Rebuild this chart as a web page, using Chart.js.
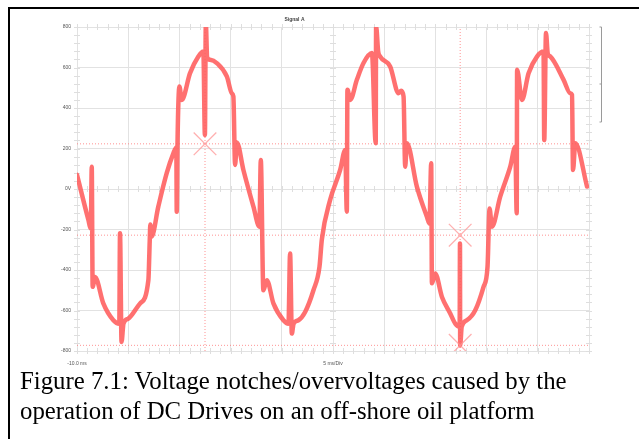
<!DOCTYPE html>
<html lang="en">
<head>
  <meta charset="UTF-8">
  <title>Figure 7.1 - Voltage notches</title>
  <script src="https://cdn.jsdelivr.net/npm/chart.js"></script>
  <style>
    html, body { margin: 0; padding: 0; background: #fff; overflow: hidden; }
    .frame { position: absolute; left: 8px; top: 7px; width: 700px; height: 500px;
             border-top: 2px solid #000; border-left: 2px solid #000; }
    .chart-box { position: absolute; left: 0; top: 0; width: 639px; height: 372px; }
    .caption { position: absolute; left: 20px; top: 366px; margin: 0;
               font-family: "Liberation Serif", "Times New Roman", serif;
               font-size: 24.8px; line-height: 30px; color: #000; }
  </style>
</head>
<body>
  <div class="frame"></div>
  <div class="chart-box"><canvas id="scope"></canvas></div>
  <p class="caption">Figure 7.1: Voltage notches/overvoltages caused by the<br>operation of DC Drives on an off-shore oil platform</p>

  <script>
    // trace "Signal A" : time in ms, voltage in V
    const timeMs = [
      -10.0, -8.90, -8.65, -8.56, -8.47, -8.24, -7.43, -6.45, -5.87, -5.80,
      -5.65, -5.46, -4.99, -3.84, -3.03, -2.90, -2.84, -2.72, -2.06, -1.24,
      -0.59, -0.30, -0.26, -0.18, 0.00, 0.23, 1.04, 1.85, 2.34, 2.49,
      2.58, 2.71, 3.00, 3.65, 4.63, 5.12, 5.27, 5.44, 5.61, 6.25,
      7.23, 7.81, 7.95, 8.20, 8.54, 9.18, 10.16, 10.65, 10.81, 10.98,
      11.15, 11.62, 12.28, 13.09, 13.68, 13.91, 14.72, 15.70, 16.19, 16.35,
      16.41, 16.68, 17.33, 17.98, 18.80, 19.17, 19.21, 19.41, 19.61, 20.58,
      21.40, 21.66, 21.89, 22.05, 22.21, 23.19, 24.17, 24.42, 24.59, 24.66,
      24.98, 25.64, 26.45, 26.94, 27.37, 27.40, 27.42, 27.57, 28.08, 28.89,
      29.70, 30.09, 30.29, 30.52, 31.33, 32.31, 32.80, 32.94, 32.98, 33.45,
      34.10, 34.92, 35.56, 35.63, 35.80, 35.97, 36.22, 37.52, 38.17, 38.34,
      38.44, 38.66, 39.81
    ];
    const voltage = [
      70, -150, -195, 110, -483, -434, -565, -648, -665, -218,
      -755, -665, -640, -565, -450, -260, -175, -235, -87, 78,
      176, 205, -112, 242, 506, 440, 572, 654, 679, 267,
      820, 650, 638, 622, 556, 473, 457, 119, 230, 94,
      -87, -186, 143, -500, -450, -565, -648, -665, -318, -714,
      -665, -648, -607, -500, -384, -250, -54, 94, 193, -112,
      490, 440, 539, 622, 671, 226, 803, 680, 654, 605,
      473, 485, 457, 110, 226, 12, -137, -170, 127, -466,
      -417, -533, -615, -665, -680, -269, -772, -680, -648, -599,
      -483, -384, -96, -186, -38, 110, 209, -120, 589, 440,
      572, 654, 679, 242, 770, 670, 654, 539, 473, 465,
      94, 226, 12
    ];

    // cursors (dotted lines) and their X marks
    const cursorLevels = [223, -228, -772];
    const cursorTimes = [2.5, 27.42];
    const markTimes = [2.5, 27.42, 27.42];
    const markVolts = [223, -228, -772];

    // axis range and labels
    const tMin = -10, tMax = 40, tStep = 5;
    const vMin = -800, vMax = 800, vStep = 200;
    const xLabels = { '-10': '-10.0 ms', '15': '5 ms/Div' };

    const traceColor = 'rgba(255, 92, 92, 0.88)';
    const cursorColor = 'rgba(255, 110, 110, 0.75)';

    // small graticule ticks + the bracket on the right
    const graticule = {
      id: 'graticule',
      beforeDatasetsDraw(chart) {
        const { ctx, chartArea, scales: { x, y } } = chart;
        ctx.save();
        ctx.strokeStyle = '#dedede';
        ctx.lineWidth = 1;
        ctx.beginPath();
        for (let t = tMin; t <= tMax; t += 1) {
          const px = Math.round(x.getPixelForValue(t)) + 0.5;
          [0, vMin, vMax].forEach(v => {
            const py = y.getPixelForValue(v);
            ctx.moveTo(px, py - 3); ctx.lineTo(px, py + 3);
          });
        }
        for (let v = vMin; v <= vMax; v += 40) {
          const py = Math.round(y.getPixelForValue(v)) + 0.5;
          [tMin, 15, tMax].forEach(t => {
            const px = x.getPixelForValue(t);
            ctx.moveTo(px - 3, py); ctx.lineTo(px + 3, py);
          });
        }
        ctx.stroke();

        // bracket
        const bx = chartArea.right + 12.5;
        const top = chartArea.top, bot = chartArea.top + 95, mid = chartArea.top + 57;
        ctx.strokeStyle = '#9a9a9a';
        ctx.beginPath();
        ctx.moveTo(bx - 2, top); ctx.lineTo(bx, top); ctx.lineTo(bx, bot); ctx.lineTo(bx - 2, bot);
        ctx.moveTo(bx - 2, mid); ctx.lineTo(bx, mid);
        ctx.stroke();
        ctx.restore();
      }
    };

    const datasets = [];
    datasets.push({
      label: 'Signal A',
      data: timeMs.map((t, i) => ({ x: t, y: voltage[i] })),
      borderColor: traceColor,
      borderWidth: 4.5,
      borderJoinStyle: 'round',
      borderCapStyle: 'round',
      pointRadius: 0,
      cubicInterpolationMode: 'monotone',
      order: 1
    });
    cursorLevels.forEach(v => datasets.push({
      data: [{ x: tMin, y: v }, { x: tMax, y: v }],
      borderColor: cursorColor, borderWidth: 1, borderDash: [1, 2],
      pointRadius: 0, order: 2
    }));
    cursorTimes.forEach(t => datasets.push({
      data: [{ x: t, y: vMin }, { x: t, y: vMax }],
      borderColor: cursorColor, borderWidth: 1, borderDash: [1, 2],
      pointRadius: 0, order: 2
    }));
    datasets.push({
      type: 'scatter',
      data: markTimes.map((t, i) => ({ x: t, y: markVolts[i] })),
      pointStyle: 'crossRot', pointRadius: 16, borderWidth: 1.3,
      borderColor: 'rgba(255, 150, 150, 0.75)', order: 0
    });

    window.onload = () => {
      new Chart(document.getElementById('scope'), {
        type: 'line',
        data: { datasets },
        plugins: [graticule],
        options: {
          responsive: true,
          maintainAspectRatio: false,
          animation: false,
          layout: { padding: { left: 0, right: 50, top: 0, bottom: 0 } },
          plugins: {
            legend: { display: false },
            tooltip: { enabled: false },
            title: {
              display: true, text: 'Signal A', color: '#444',
              font: { family: 'Arial, "Liberation Sans", sans-serif', size: 5 },
              padding: { top: 17, bottom: 4 }
            }
          },
          scales: {
            x: {
              type: 'linear', min: tMin, max: tMax,
              grid: { color: '#e2e2e2', drawTicks: false },
              border: { color: '#e2e2e2' },
              ticks: {
                stepSize: tStep, autoSkip: false, maxRotation: 0, padding: 10,
                color: '#555', font: { family: 'Arial, "Liberation Sans", sans-serif', size: 5 },
                callback: v => xLabels[String(v)] || ''
              },
              afterFit: s => { s.height = 21; }
            },
            y: {
              min: vMin, max: vMax,
              grid: { color: '#e2e2e2', drawTicks: false },
              border: { color: '#e2e2e2' },
              ticks: {
                stepSize: vStep, padding: 6,
                color: '#555', font: { family: 'Arial, "Liberation Sans", sans-serif', size: 5 },
                callback: v => v === 0 ? '0V' : String(v)
              },
              afterFit: s => { s.width = 77; }
            }
          }
        }
      });
    };
  </script>
</body>
</html>
